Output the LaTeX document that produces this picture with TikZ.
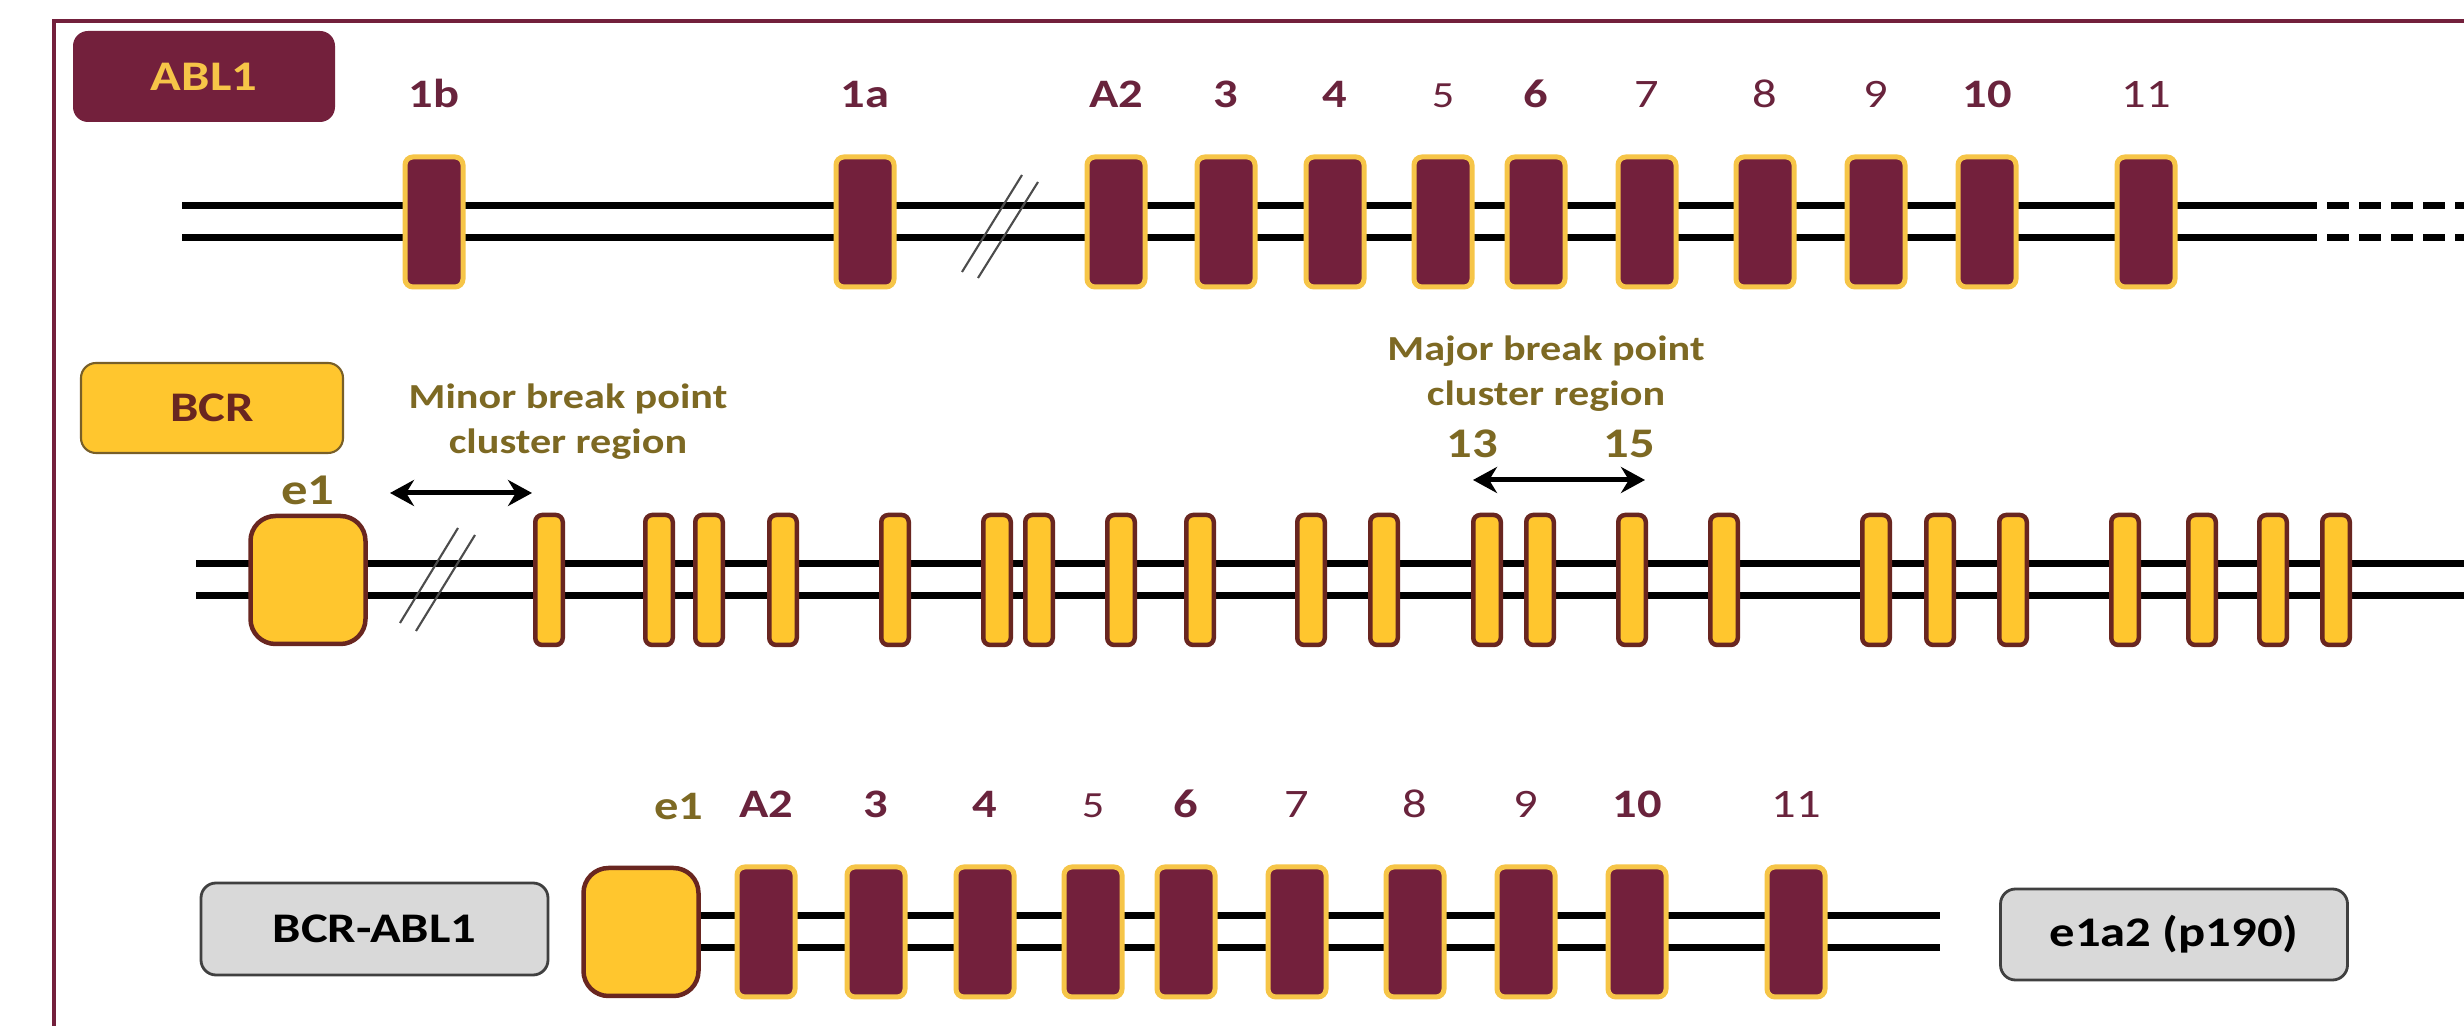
\documentclass[tikz,border=0pt]{standalone}
\usepackage{fontspec}
\setmainfont{Carlito}[FakeStretch=1.2]
\usepackage{tikz}
\usetikzlibrary{arrows.meta}

\definecolor{ablmaroon}{RGB}{115,32,60}
\definecolor{ablgold}{RGB}{246,197,72}
\definecolor{bcryellow}{RGB}{255,198,46}
\definecolor{bcrbrown}{RGB}{105,38,32}
\definecolor{bcrline}{RGB}{120,95,40}
\definecolor{olivetxt}{RGB}{125,105,35}
\definecolor{lblmaroon}{RGB}{105,35,60}
\definecolor{boxgray}{RGB}{217,217,217}

\tikzset{
	intron/.style={draw=black,line width=0.07cm,double=white,double distance=0.25cm},
	ablex/.style={rectangle,fill=ablmaroon,draw=ablgold,line width=0.05cm,rounded corners=0.08cm,minimum width=0.58cm,minimum height=1.30cm,inner sep=0pt},
	bcrex/.style={rectangle,fill=bcryellow,draw=bcrbrown,line width=0.045cm,rounded corners=0.07cm,minimum width=0.275cm,minimum height=1.30cm,inner sep=0pt},
	bcrfirst/.style={bcrex,minimum width=1.15cm,minimum height=1.28cm,rounded corners=0.25cm},
	lbl/.style={text=lblmaroon,inner sep=0pt,text height=0.26cm,text depth=0cm,font=\fontsize{11.5}{12}\selectfont},
	lblb/.style={lbl,font=\fontsize{11.5}{12}\selectfont\bfseries},
	olbl/.style={lblb,text=olivetxt},
	brktxt/.style={text=olivetxt,inner sep=0pt,align=center,font=\fontsize{10}{12.8}\selectfont\bfseries},
	genebox/.style={rectangle,rounded corners=0.15cm,inner sep=0pt,font=\fontsize{12}{14}\selectfont\bfseries},
	brkarrow/.style={arrows={Stealth[length=2.4mm,width=2.6mm]-Stealth[length=2.4mm,width=2.6mm]},line width=0.05cm},
	brkmark/.style={draw=black!70,line width=0.6pt},
	frame/.style={draw=ablmaroon,line width=0.9pt}
}

\begin{document}
\begin{tikzpicture}[label distance=0.46cm]
	\useasboundingbox [fill=white] (0,0) rectangle (24.64,-10.26);
	%Frame
	\draw [frame] (24.80,-0.21) -- (0.54,-0.21) -- (0.54,-10.40);

	%Gene boxes
	\node [genebox,fill=ablmaroon,text=ablgold,minimum width=2.62cm,minimum height=0.91cm] (abl) at (2.04,-0.765) {ABL1};
	\node [genebox,fill=bcryellow,draw=bcrline,line width=0.6pt,text=bcrbrown,minimum width=2.62cm,minimum height=0.90cm] (bcr) at (2.12,-4.08) {BCR};
	\node [genebox,fill=boxgray,draw=black!75,line width=0.8pt,minimum width=3.47cm,minimum height=0.92cm] (fusion) at (3.745,-9.29) {BCR-ABL1};
	\node [genebox,fill=boxgray,draw=black!75,line width=0.8pt,minimum width=3.47cm,minimum height=0.91cm] (p190) at (21.74,-9.345) {e1a2 (p190)};

	%Introns
	\coordinate (r1start) at (1.82,-2.22);
	\coordinate (r1dash) at (22.95,-2.22);
	\coordinate (r1end) at (24.64,-2.22);
	\coordinate (r2start) at (1.96,-5.80);
	\coordinate (r2end) at (24.64,-5.80);
	\coordinate (r3start) at (6.90,-9.32);
	\coordinate (r3end) at (19.40,-9.32);
	\draw [intron] (r1start) -- (r1dash);
	\draw [intron,dash pattern=on 0.22cm off 0.10cm] (r1dash) -- (r1end);
	\draw [intron] (r2start) -- (r2end);
	\draw [intron] (r3start) -- (r3end);

	%Breaks
	\draw [brkmark] (9.62,-2.72) -- (10.22,-1.75);
	\draw [brkmark] (9.78,-2.78) -- (10.38,-1.82);
	\draw [brkmark] (4.00,-6.23) -- (4.58,-5.28);
	\draw [brkmark] (4.16,-6.31) -- (4.75,-5.35);

	%ABL1 exons
	\node [ablex,label={[lblb,name=l1b]above:1b}] (a1b) at (4.34,-2.22) {};
	\node [ablex,label={[lblb,name=l1a]above:1a}] (a1a) at (8.65,-2.22) {};
	\node [ablex,label={[lblb,name=lA2]above:A2}] (aA2) at (11.16,-2.22) {};
	\node [ablex,label={[lblb,name=l3]above:3}] (a3) at (12.26,-2.22) {};
	\node [ablex,label={[lblb,name=l4]above:4}] (a4) at (13.35,-2.22) {};
	\node [ablex,label={[lbl,name=l5,font=\fontsize{10.5}{11}\selectfont]above:5}] (a5) at (14.43,-2.22) {};
	\node [ablex,label={[lblb,name=l6]above:6}] (a6) at (15.36,-2.22) {};
	\node [ablex,label={[lbl,name=l7]above:7}] (a7) at (16.47,-2.22) {};
	\node [ablex,label={[lbl,name=l8]above:8}] (a8) at (17.65,-2.22) {};
	\node [ablex,label={[lbl,name=l9]above:9}] (a9) at (18.76,-2.22) {};
	\node [ablex,label={[lblb,name=l10]above:10}] (a10) at (19.87,-2.22) {};
	\node [ablex,label={[lbl,name=l11]above:11}] (a11) at (21.46,-2.22) {};

	%BCR exons
	\node [bcrfirst,label={[olbl,name=le1,label distance=0.09cm,font=\fontsize{12.5}{13}\selectfont\bfseries,text height=0.28cm]above:e1}] (b1) at (3.08,-5.80) {};
	\node [bcrex] (b2) at (5.49,-5.80) {};
	\node [bcrex] (b3) at (6.59,-5.80) {};
	\node [bcrex] (b4) at (7.09,-5.80) {};
	\node [bcrex] (b5) at (7.83,-5.80) {};
	\node [bcrex] (b6) at (8.95,-5.80) {};
	\node [bcrex] (b7) at (9.97,-5.80) {};
	\node [bcrex] (b8) at (10.39,-5.80) {};
	\node [bcrex] (b9) at (11.21,-5.80) {};
	\node [bcrex] (b10) at (12.00,-5.80) {};
	\node [bcrex] (b11) at (13.11,-5.80) {};
	\node [bcrex] (b12) at (13.84,-5.80) {};
	\node [bcrex] (b13) at (14.87,-5.80) {};
	\node [bcrex] (b14) at (15.40,-5.80) {};
	\node [bcrex] (b15) at (16.32,-5.80) {};
	\node [bcrex] (b16) at (17.24,-5.80) {};
	\node [bcrex] (b17) at (18.76,-5.80) {};
	\node [bcrex] (b18) at (19.40,-5.80) {};
	\node [bcrex] (b19) at (20.13,-5.80) {};
	\node [bcrex] (b20) at (21.25,-5.80) {};
	\node [bcrex] (b21) at (22.02,-5.80) {};
	\node [bcrex] (b22) at (22.73,-5.80) {};
	\node [bcrex] (b23) at (23.36,-5.80) {};

	%Break point cluster regions
	\node [brktxt] (minortxt) at (5.68,-4.22) {Minor break point\\cluster region};
	\node [brktxt] (majortxt) at (15.46,-3.735) {Major break point\\cluster region};
	\node [brktxt,font=\fontsize{12}{14}\selectfont\bfseries] (m13) at (14.72,-4.44) {13};
	\node [brktxt,font=\fontsize{12}{14}\selectfont\bfseries] (m15) at (16.29,-4.44) {15};
	\coordinate (minorL) at (3.90,-4.93);
	\coordinate (minorR) at (5.32,-4.93);
	\coordinate (majorL) at (14.73,-4.80);
	\coordinate (majorR) at (16.45,-4.80);
	\draw [brkarrow] (minorL) -- (minorR);
	\draw [brkarrow] (majorL) -- (majorR);

	%BCR-ABL1 fusion
	\node [bcrfirst,label={[olbl,name=fle1,xshift=0.38cm]above:e1}] (fe1) at (6.41,-9.32) {};
	\node [ablex,label={[lblb,name=flA2]above:A2}] (fA2) at (7.66,-9.32) {};
	\node [ablex,label={[lblb,name=fl3]above:3}] (f3) at (8.76,-9.32) {};
	\node [ablex,label={[lblb,name=fl4]above:4}] (f4) at (9.85,-9.32) {};
	\node [ablex,label={[lbl,name=fl5,font=\fontsize{10.5}{11}\selectfont]above:5}] (f5) at (10.93,-9.32) {};
	\node [ablex,label={[lblb,name=fl6]above:6}] (f6) at (11.86,-9.32) {};
	\node [ablex,label={[lbl,name=fl7]above:7}] (f7) at (12.97,-9.32) {};
	\node [ablex,label={[lbl,name=fl8]above:8}] (f8) at (14.15,-9.32) {};
	\node [ablex,label={[lbl,name=fl9]above:9}] (f9) at (15.26,-9.32) {};
	\node [ablex,label={[lblb,name=fl10]above:10}] (f10) at (16.37,-9.32) {};
	\node [ablex,label={[lbl,name=fl11]above:11}] (f11) at (17.96,-9.32) {};
\end{tikzpicture}
\end{document}
